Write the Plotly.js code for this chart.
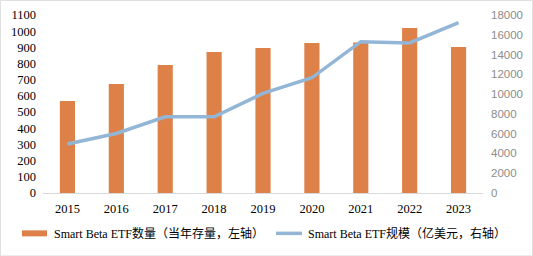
<!DOCTYPE html>
<html><head><meta charset="utf-8">
<script src="https://cdn.plot.ly/plotly-3.0.1.min.js"></script>
<style>
html,body{margin:0;padding:0;background:#fff;}
#chart{width:533px;height:256px;}
</style></head>
<body><div id="chart"></div>
<script>
const years = ['2015','2016','2017','2018','2019','2020','2021','2022','2023'];
const etfCount = [568, 673, 791, 871, 896, 927, 930, 1020, 902];
const etfAum = [4950, 6020, 7700, 7700, 10070, 11650, 15300, 15170, 17220];
const countName = 'Smart Beta ETF数量（当年存量，左轴）';
const aumName = 'Smart Beta ETF规模（亿美元，右轴）';

const SERIF = '"Liberation Serif", "Times New Roman", serif';
const LEGF = '"Liberation Serif", "Times New Roman", "Noto Sans CJK SC", serif';
const barColor = '#DD8149', lineColor = '#93B6D6';

// pixel -> paper helpers (plot area: x 43..483, y 15..192.7)
const L = 43, R = 50, T = 15, B = 63.3, W = 533, H = 256;
const pw = W - L - R, ph = H - T - B;
const px = v => (v - L) / pw;
const py = v => (H - B - v) / ph;

const traces = [
  {type:'bar', x:years, y:etfCount, name:countName, marker:{color:barColor}, width:0.31, yaxis:'y', showlegend:false},
  {type:'scatter', mode:'lines', x:years, y:etfAum, name:aumName, line:{color:lineColor, width:3.5}, yaxis:'y2', showlegend:false}
];
const layout = {
  width:W, height:H,
  margin:{l:L, r:R, t:T, b:B},
  paper_bgcolor:'#fff', plot_bgcolor:'#fff',
  showlegend:false,
  xaxis:{type:'category', showgrid:false, showline:true, linecolor:'#d9d9d9', linewidth:1,
    ticks:'', tickfont:{family:SERIF, size:12.5, color:'#000'}, zeroline:false, ticklabelstandoff:4},
  yaxis:{range:[0,1100], dtick:100, showgrid:false, zeroline:false, showline:false,
    tickfont:{family:SERIF, size:12.5, color:'#000'}, ticks:'', ticklabelstandoff:6},
  yaxis2:{range:[0,18000], dtick:2000, overlaying:'y', side:'right', showgrid:false, zeroline:false,
    showline:false, ticks:'', tickformat:'d', tickfont:{family:'"Liberation Sans", Arial, sans-serif', size:11.5, color:'#8c8c8c'}, ticklabelstandoff:7},
  shapes:[
    {type:'rect', xref:'paper', yref:'paper', x0:px(0.5), x1:px(532.5), y0:py(255.5), y1:py(0.5), line:{color:'#e0e0e0', width:1}, fillcolor:'rgba(0,0,0,0)'},
    {type:'rect', xref:'paper', yref:'paper', x0:px(22), x1:px(47), y0:py(236), y1:py(230), line:{width:0}, fillcolor:barColor},
    {type:'line', xref:'paper', yref:'paper', x0:px(276), x1:px(302), y0:py(233), y1:py(233), line:{color:lineColor, width:3.5}}
  ],
  annotations:[
    {xref:'paper', yref:'paper', x:px(52), y:py(233), xanchor:'left', yanchor:'middle', showarrow:false, text:countName, font:{family:LEGF, size:12, color:'#000'}},
    {xref:'paper', yref:'paper', x:px(306), y:py(233), xanchor:'left', yanchor:'middle', showarrow:false, text:aumName, font:{family:LEGF, size:12, color:'#000'}}
  ],
  bargap:0.69
};
Plotly.newPlot('chart', traces, layout, {staticPlot:true, displayModeBar:false});
</script></body></html>
